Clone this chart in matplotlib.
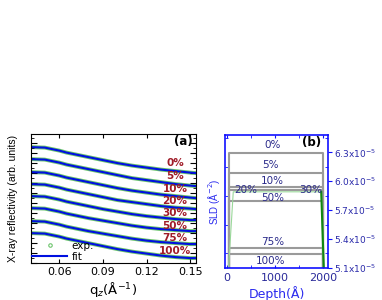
import matplotlib
matplotlib.use('Agg')
import matplotlib.pyplot as plt
from matplotlib.lines import Line2D
from matplotlib.ticker import MultipleLocator

plt.rcParams['font.family'] = ['DejaVu Sans']

########################################################################
### data ###
########################################################################

#panel (a): reflectivity curves (arb. units, offset for clarity)
q = [0.040, 0.050, 0.055, 0.060, 0.065, 0.070, 0.080, 0.090,
     0.100, 0.110, 0.120, 0.130, 0.140, 0.150, 0.154]
refl_0 = [11.6, 11.55, 11.4, 11.25, 11.05, 10.9, 10.6, 10.3,
          10.0, 9.75, 9.55, 9.35, 9.2, 9.05, 9.0]
refl_5 = [10.4, 10.35, 10.2, 10.05, 9.85, 9.7, 9.4, 9.1,
          8.8, 8.5, 8.3, 8.1, 7.9, 7.75, 7.7]
refl_10 = [9.1, 9.05, 8.9, 8.75, 8.55, 8.4, 8.1, 7.8,
           7.5, 7.25, 7.05, 6.85, 6.7, 6.55, 6.5]
refl_20 = [7.9, 7.85, 7.7, 7.55, 7.35, 7.2, 6.9, 6.6,
           6.3, 6.1, 5.9, 5.7, 5.55, 5.45, 5.4]
refl_30 = [6.7, 6.65, 6.5, 6.35, 6.15, 6.0, 5.7, 5.4,
           5.15, 4.9, 4.7, 4.55, 4.4, 4.3, 4.3]
refl_50 = [5.5, 5.45, 5.3, 5.15, 4.95, 4.8, 4.5, 4.25,
           4.0, 3.75, 3.55, 3.4, 3.3, 3.2, 3.2]
refl_75 = [4.2, 4.15, 4.0, 3.85, 3.65, 3.5, 3.2, 2.95,
           2.7, 2.45, 2.25, 2.1, 2.0, 1.9, 1.9]
refl_100 = [3.0, 2.95, 2.8, 2.65, 2.45, 2.3, 2.0, 1.7,
            1.4, 1.15, 0.95, 0.75, 0.6, 0.5, 0.5]
l_refl = [refl_0, refl_5, refl_10, refl_20, refl_30, refl_50, refl_75, refl_100]
conc_labels = ['0%', '5%', '10%', '20%', '30%', '50%', '75%', '100%']
label_y_a = [10.0, 8.7, 7.4, 6.2, 5.0, 3.7, 2.5, 1.2]

#panel (b): SLD box profiles
depth_box = [40, 40, 2000, 2000]
sld_low = 5.0e-5
sld_levels = {'0%': 6.29e-5, '5%': 6.09e-5, '10%': 5.94e-5, '30%': 5.91e-5,
              '50%': 5.79e-5, '75%': 5.31e-5, '100%': 5.245e-5}
depth_20 = [20, 130, 1960, 2020]
sld_20 = [5.0e-5, 5.89e-5, 5.89e-5, 5.0e-5]
label_pos_b = {'0%': (940, 6.372e-5), '5%': (900, 6.165e-5), '10%': (940, 6.0e-5),
               '20%': (380, 5.907e-5), '30%': (1750, 5.907e-5),
               '50%': (940, 5.824e-5), '75%': (940, 5.369e-5),
               '100%': (900, 5.172e-5)}
sld_ticks = [5.1e-5, 5.4e-5, 5.7e-5, 6.0e-5, 6.3e-5]
sld_ticklabels = ['5.1x10$^{-5}$', '5.4x10$^{-5}$', '5.7x10$^{-5}$',
                  '6.0x10$^{-5}$', '6.3x10$^{-5}$']

########################################################################
### figure ###
########################################################################
fig = plt.figure(figsize=(3.82, 3.0), dpi=100)
ax1 = fig.add_axes([0.081, 0.123, 0.432, 0.430])
ax2 = fig.add_axes([0.589, 0.107, 0.270, 0.443])

#panel (a)
for refl in l_refl:
    ax1.plot(q, refl, color='#6cc46c', lw=2.8, zorder=1)
    ax1.plot(q, refl, color='#0010e0', lw=1.5, zorder=2)
for lab, yl in zip(conc_labels, label_y_a):
    ax1.text(0.1395, yl, lab, color='#a01c28', fontsize=7.5,
             fontweight='bold', ha='center', va='center')
ax1.text(0.98, 0.94, '(a)', transform=ax1.transAxes, fontsize=8.5,
         fontweight='bold', ha='right', va='center')

ax1.set_xlim(0.0405, 0.154)
ax1.set_ylim(0, 12.9)
ax1.xaxis.set_minor_locator(MultipleLocator(0.015))
ax1.yaxis.set_major_locator(MultipleLocator(1.0))
ax1.yaxis.set_minor_locator(MultipleLocator(0.5))
ax1.set_xticks([0.06, 0.09, 0.12, 0.15])
ax1.set_xticklabels(['0.06', '0.09', '0.12', '0.15'], fontsize=8)
ax1.tick_params(axis='both', which='both', direction='in', top=True, right=True)
ax1.tick_params(axis='y', which='major', length=4, labelleft=False)
ax1.tick_params(axis='y', which='minor', length=2)
ax1.tick_params(axis='x', which='major', length=3, pad=3)
ax1.tick_params(axis='x', which='minor', length=0)
ax1.set_xlabel(r'q$_z$(Å$^{-1}$)', fontsize=9.5, labelpad=2)
ax1.set_ylabel('X-ray reflectivity (arb. units)', fontsize=7.5, labelpad=6,
               family='Liberation Sans')

#legend
h_exp = Line2D([], [], ls='none', marker='o', ms=2.5, mfc='none',
               mec='#6cc46c', mew=0.8)
h_fit = Line2D([], [], color='#0010e0', lw=1.5)
ax1.legend([h_exp, h_fit], ['exp.', 'fit'], loc='lower left', frameon=False,
           fontsize=7.5, handlelength=3.4, handletextpad=0.4,
           borderaxespad=0.0, borderpad=0.1, labelspacing=0.1)

#panel (b)
for lab, lev in sld_levels.items():
    ax2.plot(depth_box, [sld_low, lev, lev, sld_low], color='#9a9a9a', lw=1.5)
ax2.plot(depth_20, sld_20, color='#9ad89a', lw=0.8)
ax2.plot(depth_20[2:], sld_20[2:], color='#118811', lw=1.5)
for lab, (xx, yy) in label_pos_b.items():
    ax2.text(xx, yy, lab, color='#2a2a8a', fontsize=7.5, ha='center',
             va='center')
ax2.text(0.93, 0.94, '(b)', transform=ax2.transAxes, fontsize=8.5,
         fontweight='bold', ha='right', va='center')

ax2.set_xlim(-42, 2104)
ax2.set_ylim(5.1e-5, 6.48e-5)
ax2.set_xticks([0, 1000, 2000])
ax2.set_xticklabels(['0', '1000', '2000'], fontsize=8, color='#2a2a9a')
ax2.xaxis.set_minor_locator(MultipleLocator(500))
ax2.yaxis.tick_right()
ax2.set_yticks(sld_ticks)
ax2.set_yticklabels(sld_ticklabels, fontsize=6.5, color='#2a2aaa')
ax2.yaxis.set_minor_locator(MultipleLocator(0.15e-5))
ax2.tick_params(axis='y', which='major', direction='out', length=3,
                color='#1010ff', pad=1.5)
ax2.tick_params(axis='y', which='minor', direction='in', length=2,
                color='#1010ff', left=True, right=True)
ax2.tick_params(axis='x', which='both', direction='in', color='#1010ff',
                top=True, length=2.5)
for sp in ax2.spines.values():
    sp.set_color('#1010ff')
    sp.set_linewidth(1.2)
ax2.set_xlabel('Depth(Å)', fontsize=9, color='#2a2aee', labelpad=2)
ax2.set_ylabel(r'SLD (Å$^{-2}$)', fontsize=7, color='#2a2aee', labelpad=2,
               family='Liberation Sans')
ax2.yaxis.set_label_position('left')

fig.savefig('out.png', dpi=100)
